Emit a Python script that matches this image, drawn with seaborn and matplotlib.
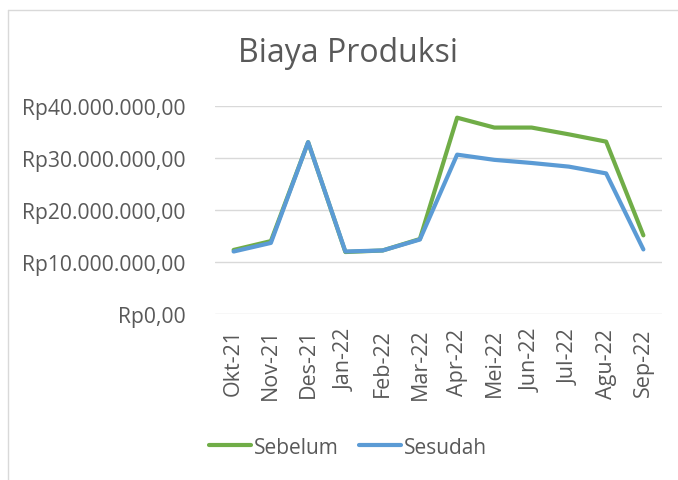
import matplotlib
matplotlib.use("Agg")
import matplotlib.pyplot as plt
import seaborn as sns
import pandas as pd
from matplotlib.lines import Line2D
from matplotlib.ticker import FuncFormatter

months = ["Okt-21", "Nov-21", "Des-21", "Jan-22", "Feb-22", "Mar-22",
          "Apr-22", "Mei-22", "Jun-22", "Jul-22", "Agu-22", "Sep-22"]
sebelum = [12.3e6, 14.0e6, 33.0e6, 11.9e6, 12.2e6, 14.4e6,
           37.7e6, 35.8e6, 35.8e6, 34.5e6, 33.1e6, 15.1e6]
sesudah = [12.0e6, 13.65e6, 33.0e6, 12.0e6, 12.2e6, 14.3e6,
           30.6e6, 29.6e6, 29.0e6, 28.3e6, 27.0e6, 12.4e6]
series_names = ["Sebelum", "Sesudah"]
yticks = [0, 10e6, 20e6, 30e6, 40e6]

df = pd.DataFrame({
    "Bulan": months * 2,
    "Nilai": sebelum + sesudah,
    "Seri": [series_names[0]] * len(months) + [series_names[1]] * len(months),
})

sns.set_style("white")
plt.rcParams["font.family"] = ["Open Sans", "DejaVu Sans"]

colors = {"Sebelum": "#70AD47", "Sesudah": "#5B9BD5"}
text_color = "#595959"

fig = plt.figure(figsize=(6.78, 4.81), dpi=100)
ax = fig.add_axes([215 / 678, 1 - 315 / 481, 447 / 678, (315 - 106.7) / 481])

sns.lineplot(data=df, x="Bulan", y="Nilai", hue="Seri", palette=colors,
             hue_order=series_names, sort=False, linewidth=3.0, ax=ax,
             legend=False)

ax.set_ylim(0, 40e6)
ax.set_xlim(-0.5, len(months) - 0.5)
ax.set_yticks(yticks)


def rp(v, pos):
    s = f"{int(round(v)):,}".replace(",", ".")
    return f"Rp{s},00"


ax.yaxis.set_major_formatter(FuncFormatter(rp))
ax.grid(axis="y", color="#D9D9D9", linewidth=1.0)
ax.grid(axis="x", visible=False)
for s in ax.spines.values():
    s.set_visible(False)
ax.set_xlabel("")
ax.set_ylabel("")
ax.tick_params(axis="y", length=0, pad=21, labelsize=15.2, labelcolor=text_color)
ax.tick_params(axis="x", length=0, pad=10, labelsize=15.5, labelcolor=text_color,
               labelrotation=90)

fig.text(348 / 678, 1 - 54 / 481, "Biaya Produksi", ha="center", va="center",
         fontsize=23, color=text_color)

handles = [Line2D([0], [0], color=colors[n], linewidth=3.0) for n in series_names]
fig.legend(handles, series_names, loc="center", bbox_to_anchor=(348 / 678, 1 - 448 / 481),
           ncol=2, frameon=False, fontsize=15, labelcolor=text_color,
           handlelength=2.0, handletextpad=0.15, columnspacing=1.0)

# chart border (top and left)
fig.add_artist(Line2D([7.5 / 678, 1], [1 - 11 / 481, 1 - 11 / 481],
                      transform=fig.transFigure, color="#D9D9D9", linewidth=1.0))
fig.add_artist(Line2D([7.5 / 678, 7.5 / 678], [0, 1 - 11 / 481],
                      transform=fig.transFigure, color="#D9D9D9", linewidth=1.0))

fig.savefig("out.png", dpi=100)
